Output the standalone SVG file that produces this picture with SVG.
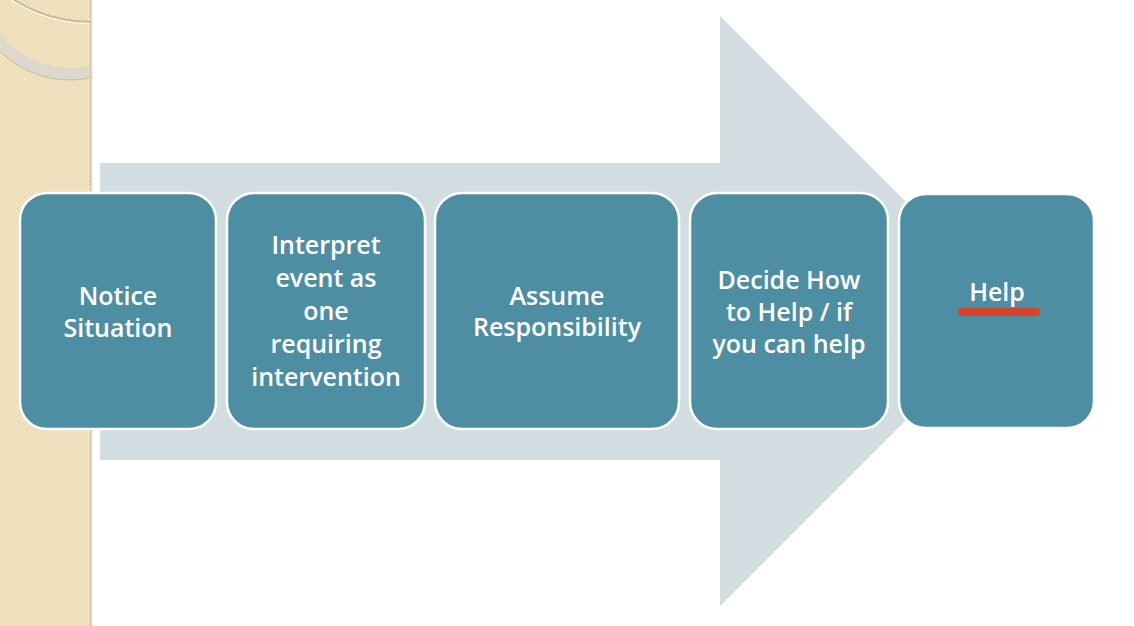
<svg xmlns="http://www.w3.org/2000/svg" width="1134" height="626" viewBox="0 0 1134 626">
  <style>
    .box { fill: #4e8ea3; stroke: #ffffff; stroke-width: 2.5; }
    .lbl { font-family: "Open Sans", "Liberation Sans", sans-serif; font-size: 25px; font-weight: 600; fill: #ffffff; text-anchor: middle; }
  </style>
  <defs>
    <pattern id="chk" width="4" height="4" patternUnits="userSpaceOnUse">
      <rect width="4" height="4" fill="#f2e5c4"/>
      <rect width="2" height="2" fill="#ebdcb6"/>
      <rect x="2" y="2" width="2" height="2" fill="#ebdcb6"/>
    </pattern>
    <clipPath id="strip"><rect x="0" y="0" width="91" height="626"/></clipPath>
    <linearGradient id="edge" x1="0" x2="1" y1="0" y2="0">
      <stop offset="0" stop-color="#c8b98f"/>
      <stop offset="1" stop-color="#ffffff"/>
    </linearGradient>
  </defs>
  <rect width="1134" height="626" fill="#ffffff"/>
  <g id="background-strip">
    <rect x="0" y="0" width="91" height="626" fill="url(#chk)"/>
    <g clip-path="url(#strip)">
      <circle cx="70" cy="-20" r="94" fill="none" stroke="#dcd8cb" stroke-width="12"/>
      <circle cx="70" cy="-20" r="100" fill="none" stroke="#c9bc98" stroke-width="1"/>
      <circle cx="90" cy="-120" r="142" fill="none" stroke="#c4b691" stroke-width="2"/>
      <circle cx="90" cy="-120" r="143.5" fill="none" stroke="#fbf6e8" stroke-width="1.5"/>
    </g>
    <rect x="90" y="0" width="3" height="626" fill="url(#edge)"/>
  </g>
  <g id="connectors">
    <polygon points="100,163 720,163 720,16 1015,311 720,606 720,460 100,460" fill="#d2dde2"/>
  </g>
  <g id="node-notice">
    <rect class="box" x="20" y="193" width="196" height="236" rx="27"/>
    <text class="lbl" x="118" y="305">Notice</text>
    <text class="lbl" x="118" y="337">Situation</text>
  </g>
  <g id="node-interpret">
    <rect class="box" x="227" y="193" width="198" height="236" rx="27"/>
    <text class="lbl" x="326" y="254">Interpret</text>
    <text class="lbl" x="326" y="287">event as</text>
    <text class="lbl" x="326" y="320">one</text>
    <text class="lbl" x="326" y="353">requiring</text>
    <text class="lbl" x="326" y="386">intervention</text>
  </g>
  <g id="node-assume">
    <rect class="box" x="435" y="193" width="244" height="236" rx="27"/>
    <text class="lbl" x="557" y="305">Assume</text>
    <text class="lbl" x="557" y="336">Responsibility</text>
  </g>
  <g id="node-decide">
    <rect class="box" x="690" y="193" width="198" height="236" rx="27"/>
    <text class="lbl" x="789" y="289">Decide How</text>
    <text class="lbl" x="789" y="321">to Help / if</text>
    <text class="lbl" x="789" y="353">you can help</text>
  </g>
  <g id="node-help">
    <rect class="box" x="899" y="194" width="195" height="234" rx="27"/>
    <text class="lbl" x="997" y="301">Help</text>
    <line x1="962" y1="312" x2="1036" y2="312" stroke="#d8432b" stroke-width="8" stroke-linecap="round"/>
  </g>
</svg>
